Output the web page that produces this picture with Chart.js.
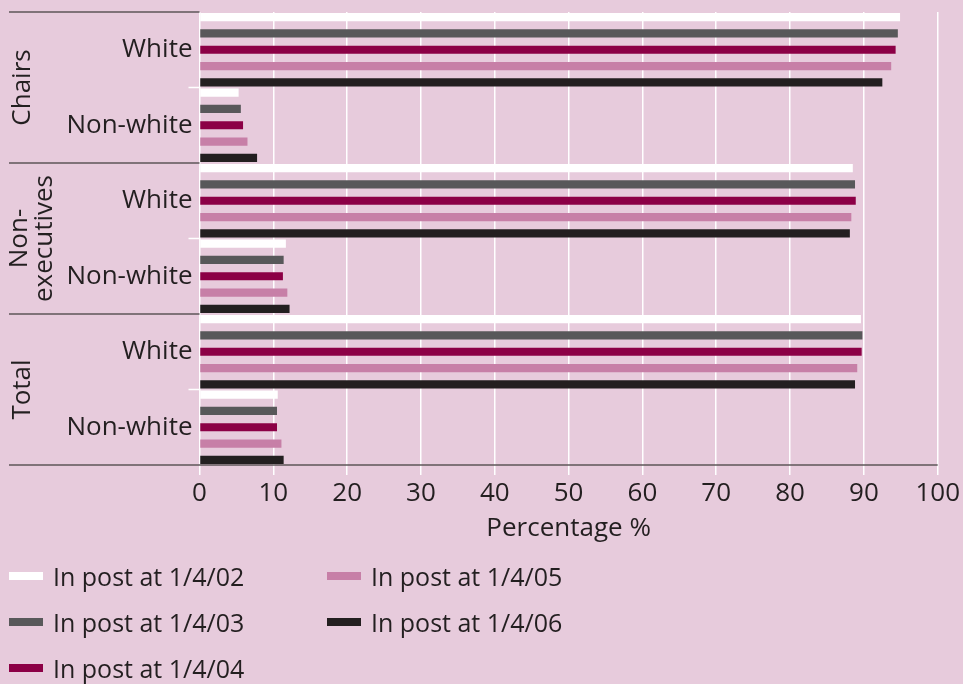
<!DOCTYPE html>
<html><head><meta charset="utf-8">
<script src="https://cdn.jsdelivr.net/npm/chart.js@4"></script>
<style>
html,body{margin:0;padding:0;background:#e7cbdc;width:963px;height:684px;overflow:hidden;font-family:'Open Sans',sans-serif;color:#231f20}
#wrap{position:absolute;left:0;top:0;width:963px;height:560px}
#legend{position:absolute;left:9px;top:553px;display:grid;grid-template-rows:repeat(3,46px);grid-auto-flow:column;grid-template-columns:318px 300px}
.item{display:flex;align-items:center;font-size:25px;height:46px;white-space:nowrap}
.sw{width:34px;height:8px;margin-right:10px;flex:none}
</style></head>
<body>
<div id="wrap"><canvas id="c"></canvas></div>
<div id="legend"></div>
<script>
const groups = [['Chairs'], ['Non-', 'executives'], ['Total']];
const categories = ['White', 'Non-white', 'White', 'Non-white', 'White', 'Non-white'];
const seriesLabels = ['In post at 1/4/02', 'In post at 1/4/03', 'In post at 1/4/04', 'In post at 1/4/05', 'In post at 1/4/06'];
const seriesColors = ['#ffffff', '#58585a', '#8c0046', '#c77fa7', '#231f20'];
const s02 = [94.9, 5.3, 88.5, 11.7, 89.6, 10.6];
const s03 = [94.6, 5.6, 88.8, 11.4, 89.8, 10.5];
const s04 = [94.3, 5.9, 88.9, 11.3, 89.7, 10.5];
const s05 = [93.7, 6.5, 88.3, 11.9, 89.1, 11.1];
const s06 = [92.5, 7.8, 88.1, 12.2, 88.8, 11.4];
const xTicks = [0, 10, 20, 30, 40, 50, 60, 70, 80, 90, 100];
const xTitle = 'Percentage %';

const series = [s02, s03, s04, s05, s06];
const TEXT = '#231f20';
Chart.defaults.font.family = "'Open Sans', sans-serif";
Chart.defaults.color = TEXT;

const groupPlugin = {
  id: 'groups',
  afterDatasetsDraw(chart) {
    const {ctx, chartArea: a, scales: {y}} = chart;
    const n = categories.length;
    const bound = i => i === 0 ? a.top : i === n ? a.bottom :
      (y.getPixelForValue(i - 1) + y.getPixelForValue(i)) / 2;
    const line = (x1, x2, yy) => { ctx.beginPath(); ctx.moveTo(x1, yy); ctx.lineTo(x2, yy); ctx.stroke(); };
    ctx.save();
    ctx.lineWidth = 1.5;
    ctx.strokeStyle = '#5e5659';
    for (let g = 0; g < groups.length; g++) line(9, a.left, bound(g * 2));
    line(9, a.right, a.bottom);
    ctx.strokeStyle = '#ffffff';
    for (let g = 0; g < groups.length; g++) line(a.left - 11, a.left, bound(g * 2 + 1));
    ctx.fillStyle = TEXT;
    ctx.font = "26px 'Open Sans', sans-serif";
    ctx.textAlign = 'center';
    ctx.textBaseline = 'alphabetic';
    for (let g = 0; g < groups.length; g++) {
      const yc = (bound(g * 2) + bound(g * 2 + 2)) / 2;
      const lines = groups[g];
      lines.forEach((t, k) => {
        const xb = lines.length === 1 ? 30 : 27 + k * 25;
        ctx.save();
        ctx.translate(xb, yc);
        ctx.rotate(-Math.PI / 2);
        ctx.fillText(t, 0, 0);
        ctx.restore();
      });
    }
    ctx.restore();
  }
};

new Chart(document.getElementById('c'), {
  type: 'bar',
  data: {
    labels: categories,
    datasets: series.map((d, i) => ({
      label: seriesLabels[i],
      data: d,
      backgroundColor: seriesColors[i],
      borderWidth: 0,
      categoryPercentage: 1.08,
      barPercentage: 0.5
    }))
  },
  options: {
    indexAxis: 'y',
    responsive: true,
    maintainAspectRatio: false,
    animation: false,
    layout: {padding: {top: 12, right: 25, left: 0, bottom: 0}},
    plugins: {legend: {display: false}, tooltip: {enabled: false}},
    scales: {
      x: {
        min: 0, max: 100,
        afterBuildTicks: s => { s.ticks = xTicks.map(v => ({value: v})); },
        afterFit: s => { s.height = 95; },
        grid: {color: '#ffffff', lineWidth: 1.5, tickLength: 10, tickColor: '#ffffff'},
        border: {display: false},
        ticks: {font: {size: 26}, color: TEXT, padding: 3, maxRotation: 0, autoSkip: false},
        title: {display: true, text: xTitle, font: {size: 26}, color: TEXT, padding: {top: 0, bottom: 16}}
      },
      y: {
        afterFit: s => { s.width = 199.5; s.paddingTop = 0; s.paddingBottom = 0; },
        grid: {display: false, drawTicks: false},
        border: {display: false},
        ticks: {font: {size: 26}, color: TEXT, padding: 7}
      }
    }
  },
  plugins: [groupPlugin]
});

const leg = document.getElementById('legend');
seriesLabels.forEach((l, i) => {
  const it = document.createElement('div');
  it.className = 'item';
  const sw = document.createElement('span');
  sw.className = 'sw';
  sw.style.background = seriesColors[i];
  it.appendChild(sw);
  it.appendChild(document.createTextNode(l));
  leg.appendChild(it);
});
</script>
</body></html>
